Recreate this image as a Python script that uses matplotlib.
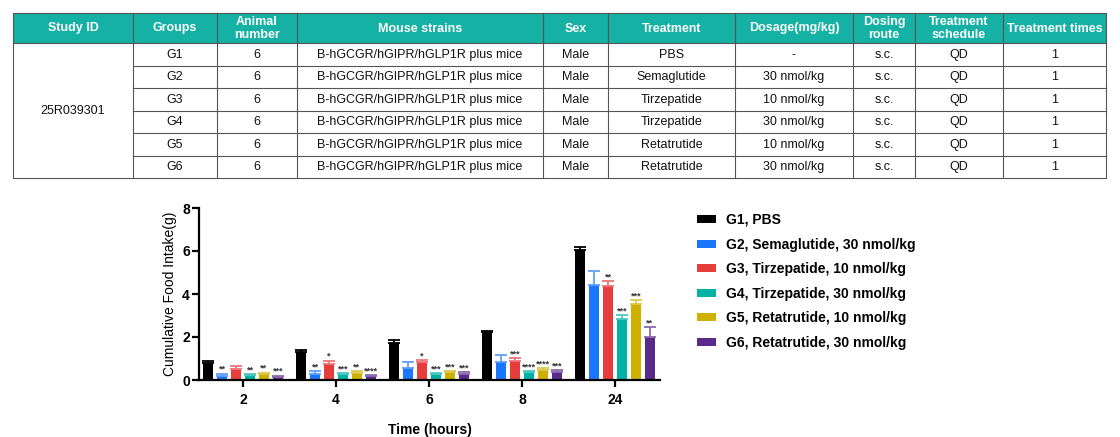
import matplotlib
matplotlib.use("Agg")
import matplotlib.pyplot as plt
from matplotlib.patches import Rectangle, Patch
import numpy as np

plt.rcParams['font.family'] = ['Liberation Sans', 'DejaVu Sans']

# ---------------- table data ----------------
table_headers = ["Study ID", "Groups", "Animal\nnumber", "Mouse strains", "Sex", "Treatment",
                 "Dosage(mg/kg)", "Dosing\nroute", "Treatment\nschedule", "Treatment times"]
study_id = "25R039301"
group_ids = ["G1", "G2", "G3", "G4", "G5", "G6"]
animal_numbers = ["6", "6", "6", "6", "6", "6"]
mouse_strains = ["B-hGCGR/hGIPR/hGLP1R plus mice"] * 6
sexes = ["Male"] * 6
treatments = ["PBS", "Semaglutide", "Tirzepatide", "Tirzepatide", "Retatrutide", "Retatrutide"]
dosages = ["-", "30 nmol/kg", "10 nmol/kg", "30 nmol/kg", "10 nmol/kg", "30 nmol/kg"]
routes = ["s.c."] * 6
schedules = ["QD"] * 6
treat_times = ["1"] * 6

# ---------------- chart data ----------------
time_labels = ["2", "4", "6", "8", "24"]
legend_labels = ["G1, PBS", "G2, Semaglutide, 30 nmol/kg", "G3, Tirzepatide, 10 nmol/kg",
                 "G4, Tirzepatide, 30 nmol/kg", "G5, Retatrutide, 10 nmol/kg",
                 "G6, Retatrutide, 30 nmol/kg"]
g1_mean = [0.80, 1.29, 1.73, 2.23, 6.06]
g2_mean = [0.20, 0.29, 0.55, 0.83, 4.41]
g3_mean = [0.52, 0.76, 0.82, 0.90, 4.38]
g4_mean = [0.24, 0.29, 0.29, 0.37, 2.84]
g5_mean = [0.27, 0.34, 0.35, 0.48, 3.53]
g6_mean = [0.15, 0.19, 0.29, 0.35, 2.00]
g1_sem = [0.08, 0.12, 0.11, 0.07, 0.11]
g2_sem = [0.09, 0.11, 0.28, 0.33, 0.67]
g3_sem = [0.11, 0.14, 0.12, 0.11, 0.23]
g4_sem = [0.03, 0.04, 0.04, 0.04, 0.17]
g5_sem = [0.07, 0.06, 0.07, 0.06, 0.18]
g6_sem = [0.05, 0.03, 0.09, 0.11, 0.45]
g1_sig = ["", "", "", "", ""]
g2_sig = ["**", "**", "", "", ""]
g3_sig = ["", "*", "*", "***", "**"]
g4_sig = ["**", "***", "***", "****", "***"]
g5_sig = ["**", "**", "***", "****", "***"]
g6_sig = ["***", "****", "***", "***", "**"]

colors = ["#000000", "#1A75FF", "#E63C3C", "#00B1A5", "#CDB000", "#592A8A"]

means = [g1_mean, g2_mean, g3_mean, g4_mean, g5_mean, g6_mean]
sems = [g1_sem, g2_sem, g3_sem, g4_sem, g5_sem, g6_sem]
sigs = [g1_sig, g2_sig, g3_sig, g4_sig, g5_sig, g6_sig]

W, H = 1120, 437
fig = plt.figure(figsize=(W / 100, H / 100), dpi=100)

# ---------------- table ----------------
tax = fig.add_axes([0, 0, 1, 1])
tax.set_xlim(0, W)
tax.set_ylim(H, 0)
tax.axis('off')

col_edges = [13, 133, 217, 297, 543, 608, 735, 853, 915, 1003, 1106]
top, hbot, row_h = 13, 43, 22.5
nrows = len(group_ids)
bottom = hbot + nrows * row_h
teal = "#14B1A4"
line_c = "#555555"

tax.add_patch(Rectangle((col_edges[0], top), col_edges[-1] - col_edges[0], hbot - top,
                        facecolor=teal, edgecolor='none'))
for i, h in enumerate(table_headers):
    cx = (col_edges[i] + col_edges[i + 1]) / 2
    tax.text(cx, (top + hbot) / 2 + 0.5, h, ha='center', va='center', color='white',
             fontsize=9, fontweight='bold', linespacing=1.05)

cols = [group_ids, animal_numbers, mouse_strains, sexes, treatments, dosages, routes,
        schedules, treat_times]
for r in range(nrows):
    cy = hbot + (r + 0.5) * row_h
    for c, colvals in enumerate(cols):
        cx = (col_edges[c + 1] + col_edges[c + 2]) / 2
        tax.text(cx, cy + 0.5, colvals[r], ha='center', va='center', fontsize=9, color='#111111')
tax.text((col_edges[0] + col_edges[1]) / 2, (hbot + bottom) / 2, study_id, ha='center',
         va='center', fontsize=9, color='#111111')

lw = 0.8
for x in col_edges:
    tax.plot([x, x], [top, bottom], color=line_c, lw=lw, solid_capstyle='butt')
tax.plot([col_edges[0], col_edges[-1]], [top, top], color=line_c, lw=lw)
tax.plot([col_edges[0], col_edges[-1]], [hbot, hbot], color=line_c, lw=lw)
tax.plot([col_edges[0], col_edges[-1]], [bottom, bottom], color=line_c, lw=lw)
for r in range(1, nrows):
    y = hbot + r * row_h
    tax.plot([col_edges[1], col_edges[-1]], [y, y], color=line_c, lw=lw)

# ---------------- bar chart ----------------
ax = fig.add_axes([199 / W, 1 - 380 / H, (660 - 199) / W, (380 - 208) / H])
x = np.arange(len(time_labels))
ng = len(means)
step = 0.15
bw = 0.105


def lighten(c, f):
    rgb = np.array(matplotlib.colors.to_rgb(c))
    return tuple(rgb + (1 - rgb) * f)


for g in range(ng):
    xs = x + (g - (ng - 1) / 2) * step
    m = np.array(means[g])
    s = np.array(sems[g])
    ecol = colors[g] if g == 0 else lighten(colors[g], 0.3)
    ax.bar(xs, m, width=bw, color=colors[g], edgecolor='none', zorder=2,
           label=legend_labels[g])
    ax.errorbar(xs, m, yerr=[np.zeros_like(s), s], fmt='none', ecolor=ecol,
                elinewidth=1.3, capsize=4, capthick=1.3, zorder=3)
    for xi, mi, si, st in zip(xs, m, s, sigs[g]):
        if st:
            ax.text(xi, mi + si + 0.08, st, ha='center', va='baseline', fontsize=6.5,
                    color='#333333', fontweight='bold')

ax.set_xlim(-0.473, 4.484)
ax.set_ylim(0, 8)
ax.set_yticks([0, 2, 4, 6, 8])
ax.set_xticks(x)
ax.set_xticklabels(time_labels)
for sp in ['top', 'right']:
    ax.spines[sp].set_visible(False)
for sp in ['left', 'bottom']:
    ax.spines[sp].set_linewidth(1.6)
ax.tick_params(axis='both', width=1.6, length=5, labelsize=10, direction='out')
ax.tick_params(axis='y', pad=1.5)
ax.tick_params(axis='x', pad=4)
for lab in ax.get_xticklabels() + ax.get_yticklabels():
    lab.set_fontweight('bold')
ax.set_ylabel("Cumulative Food Intake(g)", fontsize=10, labelpad=4)
ax.set_xlabel("Time (hours)", fontsize=10, fontweight='bold', labelpad=12)

handles = [Patch(facecolor=c, edgecolor='none') for c in colors]
leg = fig.legend(handles, legend_labels, loc='upper left',
                 bbox_to_anchor=(697 / W, 1 - 213 / H), bbox_transform=fig.transFigure,
                 frameon=False, fontsize=10, handlelength=1.37, handleheight=0.5,
                 handletextpad=0.7, labelspacing=0.76, borderpad=0, borderaxespad=0)
for t in leg.get_texts():
    t.set_fontweight('bold')

fig.savefig("out.png", dpi=100)
